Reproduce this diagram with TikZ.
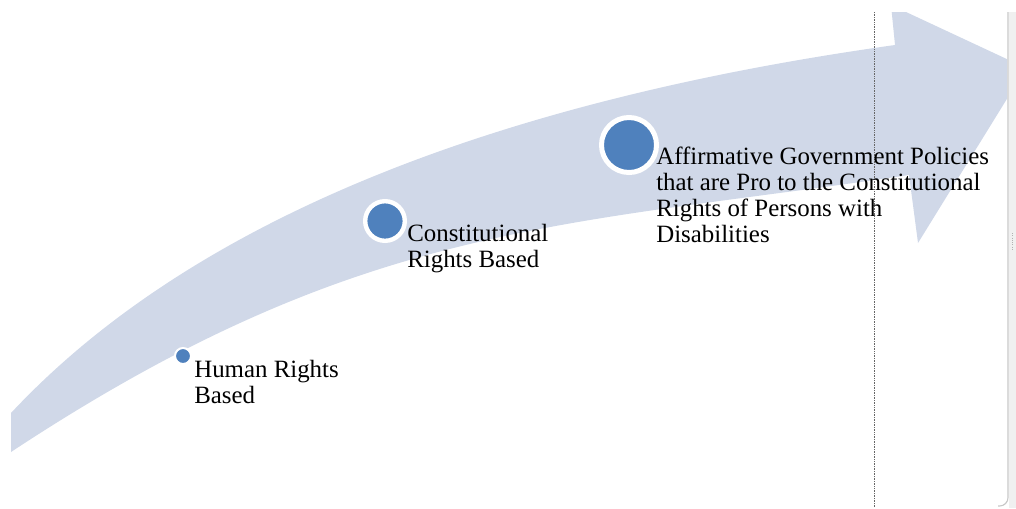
\documentclass[tikz,border=0pt]{standalone}
\usepackage{fontspec}
\setmainfont{Liberation Serif}
\definecolor{bleupale}{RGB}{208,216,232}
\definecolor{bleu}{RGB}{79,129,189}
\definecolor{cadre}{RGB}{200,200,200}
\begin{document}
\begin{tikzpicture}[x=0.025cm,y=-0.025cm]
            \tikzstyle{jalon}=[circle,fill=bleu,draw=white,inner sep=0]
            \tikzstyle{etiquette}=[anchor=north west,inner sep=0,align=left,font=\fontsize{17.7}{18.3}\selectfont]
            \useasboundingbox (0,0) rectangle (1016,508);
            \begin{scope}
            \clip (11,12) rectangle (1007,500);
            \fill[bleupale] (11,413) .. controls (211,199) and (545,94) .. (895,45) -- (891,5) -- (1026,68) -- (918,243) -- (909,175) .. controls (559,227) and (361,221) .. (11,452) -- cycle;
            \end{scope}
            \draw[gray!80!black,line width=0.6pt,dash pattern=on 0.6pt off 0.6pt] (874,12) -- (874,508);
            \fill[gray!12] (1009,12) rectangle (1016,508);
            \draw[cadre,line width=0.8pt,rounded corners=6] (1008,12) -- (1008,506) -- (998,506);
            \draw[gray!60,line width=0.6pt,dash pattern=on 0.6pt off 1pt] (1012,233) -- (1012,250);
            \node[jalon,line width=0.05cm,minimum size=0.4cm] (hrp) at (183,356) {};
            \node[jalon,line width=0.11cm,minimum size=0.99cm] (crp) at (385,221) {};
            \node[jalon,line width=0.125cm,minimum size=1.375cm] (agpp) at (629,145) {};
            \node[etiquette] (hr) at (194,360) {Human Rights\\Based};
            \node[etiquette] (cr) at (407,224) {Constitutional\\Rights Based};
            \node[etiquette] (agp) at (656,147) {Affirmative Government Policies\\that are Pro to the Constitutional\\Rights of Persons with\\Disabilities};
        \end{tikzpicture}
\end{document}
